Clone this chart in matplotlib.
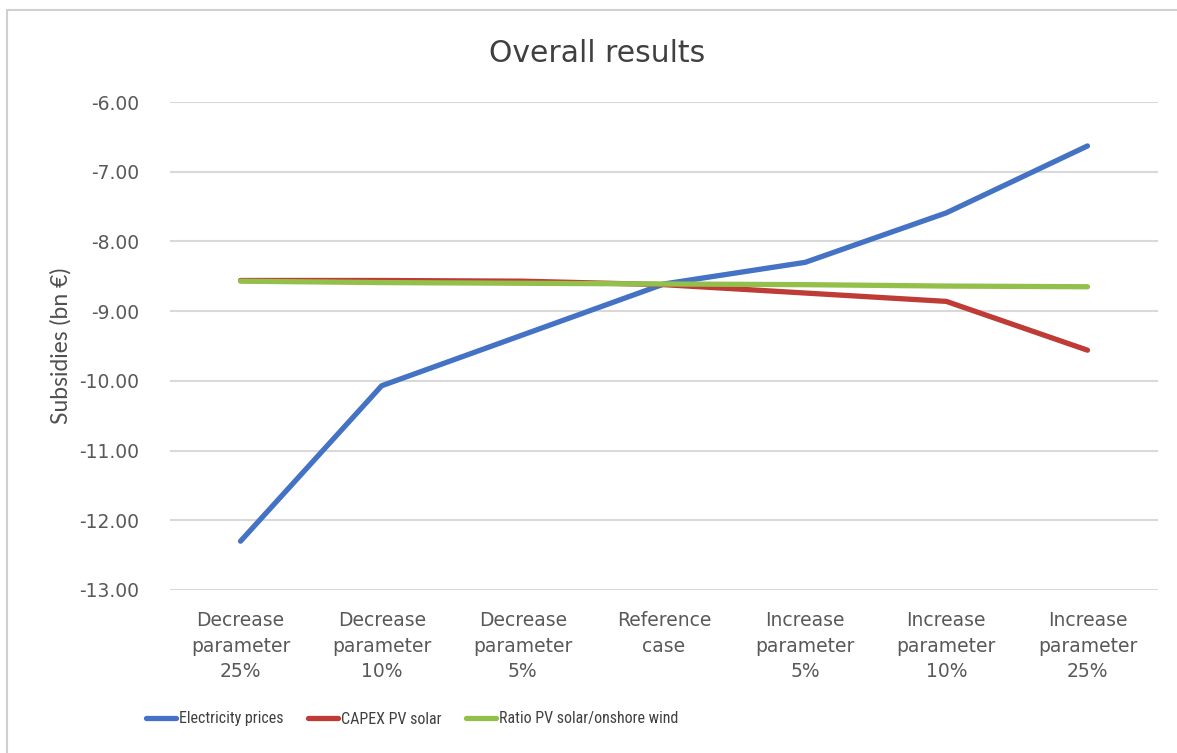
import matplotlib.pyplot as plt
from matplotlib.patches import Rectangle

# sensitivity cases on the x axis
cases = ["Decrease\nparameter\n25%", "Decrease\nparameter\n10%", "Decrease\nparameter\n5%",
         "Reference\ncase", "Increase\nparameter\n5%", "Increase\nparameter\n10%",
         "Increase\nparameter\n25%"]

# subsidies in bn EUR
electricity_prices = [-12.30, -10.07, -9.34, -8.61, -8.30, -7.59, -6.63]
capex_pv_solar = [-8.56, -8.56, -8.57, -8.62, -8.74, -8.86, -9.56]
ratio_pv_wind = [-8.57, -8.59, -8.60, -8.61, -8.62, -8.64, -8.65]

yticks = [-6, -7, -8, -9, -10, -11, -12, -13]

fig = plt.figure(figsize=(11.77, 7.53), dpi=100)
ax = fig.add_axes([0.1444, 0.2165, 0.8395, 0.648])

x = range(len(cases))
ax.plot(x, electricity_prices, color="#4472C4", lw=3.8, solid_capstyle="round",
        label="Electricity prices")
ax.plot(x, capex_pv_solar, color="#BE3B36", lw=3.8, solid_capstyle="round",
        label="CAPEX PV solar")
ax.plot(x, ratio_pv_wind, color="#92C04A", lw=3.8, solid_capstyle="round",
        label="Ratio PV solar/onshore wind")

ax.set_xlim(-0.5, len(cases) - 0.5)
ax.set_ylim(-13, -6)
ax.set_yticks(yticks)
ax.set_yticklabels([f"{v:.2f}" for v in yticks])
ax.set_xticks(list(x))
ax.set_xticklabels(cases, linespacing=1.45)
ax.grid(axis="y", color="#d9d9d9", lw=1.5)
ax.set_axisbelow(True)
for s in ax.spines.values():
    s.set_visible(False)
ax.tick_params(axis="both", length=0, labelsize=13.5, labelcolor="#595959")
ax.tick_params(axis="x", pad=15)
ax.tick_params(axis="y", pad=22)

cond = ["Liberation Sans Narrow", "Roboto Condensed", "DejaVu Sans Condensed", "Lato"]
fig.text(61 / 1177, 1 - 346 / 753, "Subsidies (bn €)", rotation=90, ha="center",
         va="center", fontsize=16.5, color="#505050", family=["Lato", "DejaVu Sans"])
fig.text(597 / 1177, 1 - 53 / 753, "Overall results", ha="center", va="center",
         fontsize=21.5, color="#404040")

leg = fig.legend(loc="center", bbox_to_anchor=(412 / 1177, 1 - 719 / 753), ncol=3,
                 frameon=False, handlelength=1.9, handletextpad=0.2,
                 columnspacing=1.5,
                 prop={"family": cond, "size": 11.5, "stretch": "condensed"})
for t in leg.get_texts():
    t.set_color("#404040")

# chart frame
fig.patches.append(Rectangle((7 / 1177, -0.1), 1.2, 1 - 10 / 753 + 0.1,
                             transform=fig.transFigure, fill=False,
                             edgecolor="#d0d0d0", lw=1.5))

fig.savefig("out.png", dpi=100)
